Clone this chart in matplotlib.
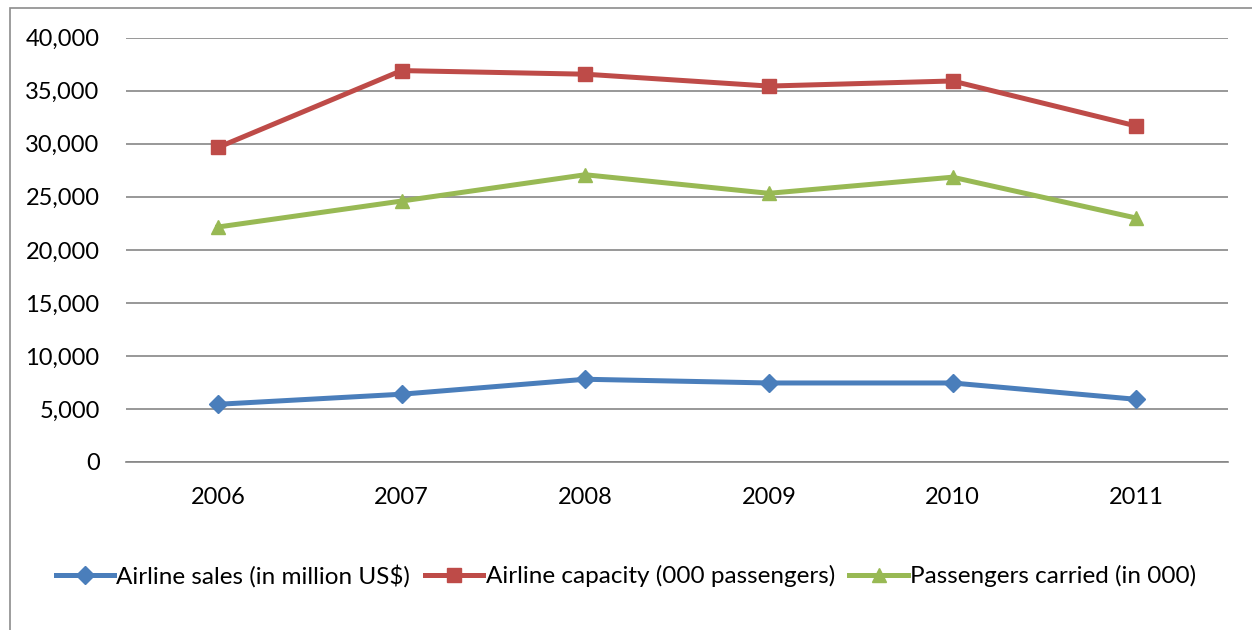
import matplotlib.pyplot as plt
from matplotlib.patches import Rectangle
from matplotlib.ticker import FuncFormatter

plt.rcParams['font.family'] = ['Lato', 'DejaVu Sans']

# --- Data --------------------------------------------------------------------
years    = ['2006', '2007', '2008', '2009', '2010', '2011']
sales    = [5440, 6390, 7800, 7450, 7450, 5910]          # million US$
capacity = [29650, 36900, 36560, 35440, 35920, 31680]    # 000 passengers
carried  = [22150, 24600, 27080, 25330, 26850, 23000]    # 000

series = [
    ('Airline sales (in million US$)',     sales,    '#4A7EBB', 'D', 9),
    ('Airline capacity (000 passengers)',  capacity, '#BE4B48', 's', 10),
    ('Passengers carried (in 000)',        carried,  '#98B954', '^', 10),
]

# --- Figure ------------------------------------------------------------------
W, H = 1252, 630
fig = plt.figure(figsize=(W / 100, H / 100), dpi=100, facecolor='white')

# outer chart frame (runs off the right and bottom edges)
fig.patches.append(Rectangle((10 / W, -0.1), 1.2, (H - 8) / H + 0.1,
                             transform=fig.transFigure, fill=False,
                             edgecolor='#8c8c8c', linewidth=1.2))

ax = fig.add_axes([126 / W, (H - 462) / H, (1228 - 126) / W, (462 - 37.7) / H])

x = range(len(years))
for label, vals, color, marker, ms in series:
    ax.plot(x, vals, color=color, linewidth=3.6, marker=marker,
            markersize=ms, label=label, solid_joinstyle='round')

ax.set_xlim(-0.5, len(years) - 0.5)
ax.set_ylim(0, 40000)
ax.set_yticks(range(0, 40001, 5000))
ax.yaxis.set_major_formatter(FuncFormatter(lambda v, _: f'{int(v):,}'))
ax.set_xticks(list(x))
ax.set_xticklabels(years)

ax.grid(axis='y', color='#868686', linewidth=1.2)
ax.set_axisbelow(True)
for side in ('top', 'right', 'left'):
    ax.spines[side].set_visible(False)
ax.spines['bottom'].set_color('#868686')
ax.spines['bottom'].set_linewidth(1.2)
ax.tick_params(length=0, labelsize=17, colors='black')
ax.tick_params(axis='y', pad=19)
ax.tick_params(axis='x', pad=18)

fig.legend(loc='center', bbox_to_anchor=(0.5, (H - 576) / H), ncol=3,
           frameon=False, fontsize=17.5, handlelength=2.4, handletextpad=0.1,
           columnspacing=0.6)

fig.savefig('out.png', dpi=100, facecolor='white')
